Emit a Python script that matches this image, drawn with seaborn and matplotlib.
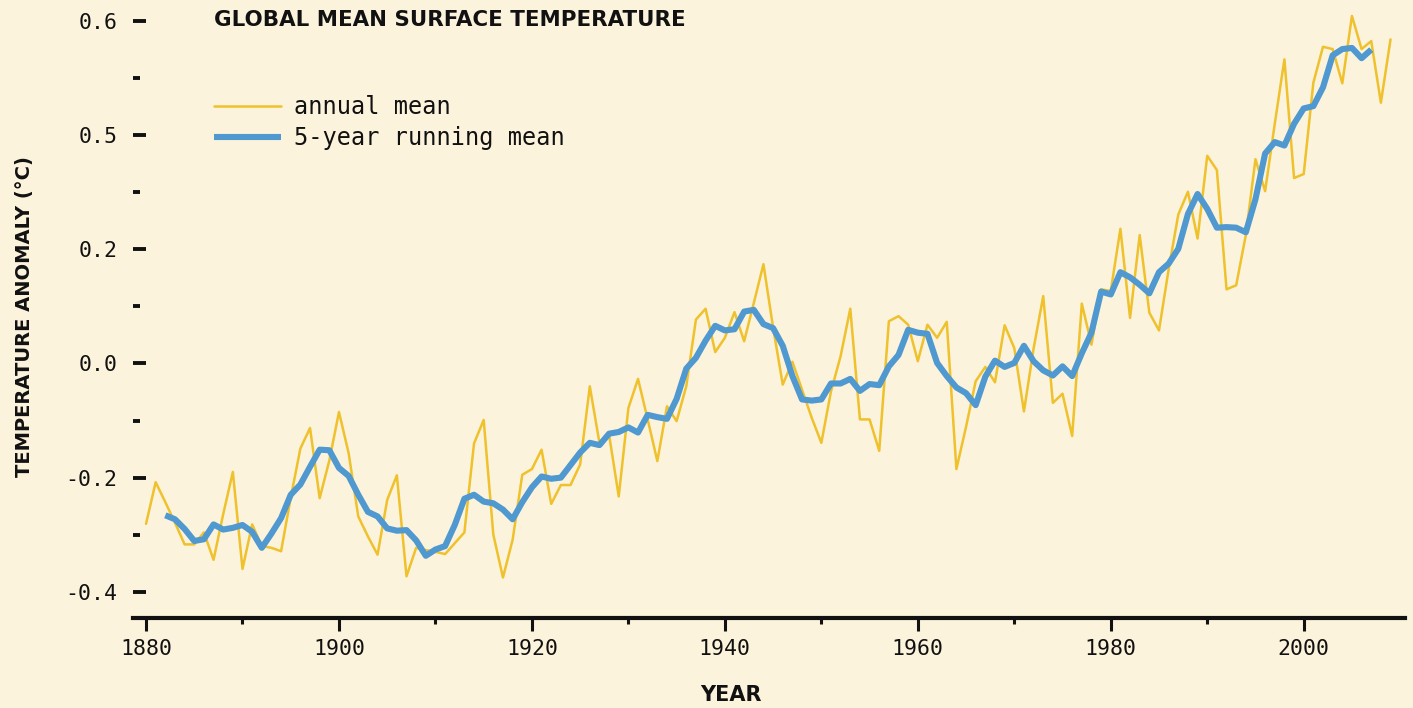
import seaborn as sns
import matplotlib.pyplot as plt
from matplotlib.ticker import MultipleLocator, FixedLocator

# values (deg C anomaly)
years = list(range(1880, 2010))
annual = [
    -0.281, -0.208, -0.243, -0.279, -0.317, -0.317, -0.296, -0.344, -0.264, -0.190,
    -0.360, -0.282, -0.320, -0.323, -0.329, -0.235, -0.149, -0.113, -0.236, -0.170,
    -0.085, -0.157, -0.268, -0.303, -0.335, -0.239, -0.196, -0.373, -0.323, -0.327,
    -0.330, -0.334, -0.315, -0.296, -0.140, -0.099, -0.300, -0.375, -0.309, -0.195,
    -0.185, -0.151, -0.246, -0.213, -0.213, -0.177, -0.040, -0.139, -0.125, -0.233,
    -0.078, -0.027, -0.098, -0.171, -0.075, -0.101, -0.040, 0.077, 0.096, 0.020,
    0.045, 0.090, 0.039, 0.106, 0.174, 0.063, -0.037, 0.003, -0.046, -0.095,
    -0.139, -0.049, 0.013, 0.096, -0.098, -0.098, -0.153, 0.074, 0.083, 0.068,
    0.004, 0.068, 0.045, 0.073, -0.185, -0.111, -0.031, -0.006, -0.033, 0.067,
    0.027, -0.084, 0.026, 0.118, -0.069, -0.053, -0.127, 0.105, 0.033, 0.130,
    0.127, 0.236, 0.080, 0.225, 0.089, 0.058, 0.165, 0.261, 0.301, 0.219,
    0.364, 0.339, 0.130, 0.137, 0.225, 0.358, 0.302, 0.420, 0.533, 0.325,
    0.332, 0.492, 0.555, 0.551, 0.491, 0.609, 0.551, 0.565, 0.457, 0.568,
]

running_years = list(range(1882, 2008))
running = [
    -0.266, -0.273, -0.290, -0.311, -0.308, -0.282, -0.291, -0.288,
    -0.283, -0.295, -0.323, -0.298, -0.271, -0.230, -0.212, -0.181, -0.151, -0.152,
    -0.183, -0.197, -0.230, -0.260, -0.268, -0.289, -0.293, -0.292, -0.310, -0.337,
    -0.326, -0.320, -0.283, -0.237, -0.230, -0.242, -0.245, -0.256, -0.273, -0.243,
    -0.217, -0.198, -0.202, -0.200, -0.178, -0.156, -0.139, -0.143, -0.123, -0.120,
    -0.112, -0.121, -0.090, -0.094, -0.097, -0.062, -0.009, 0.010, 0.040, 0.066,
    0.058, 0.060, 0.091, 0.094, 0.069, 0.062, 0.031, -0.022, -0.063, -0.065,
    -0.063, -0.035, -0.035, -0.027, -0.048, -0.036, -0.038, -0.005, 0.015, 0.059,
    0.054, 0.052, 0.001, -0.022, -0.042, -0.052, -0.073, -0.023, 0.005, -0.006,
    0.001, 0.031, 0.004, -0.012, -0.021, -0.005, -0.022, 0.018, 0.054, 0.126,
    0.121, 0.160, 0.151, 0.138, 0.123, 0.160, 0.175, 0.201, 0.262, 0.297,
    0.271, 0.238, 0.239, 0.238, 0.230, 0.288, 0.368, 0.388, 0.382, 0.420,
    0.447, 0.451, 0.484, 0.540, 0.551, 0.553, 0.535, 0.550,
]

xticks = [1880, 1900, 1920, 1940, 1960, 1980, 2000]
xtick_labels = ["1880", "1900", "1920", "1940", "1960", "1980", "2000"]
xminor = [1890, 1910, 1930, 1950, 1970, 1990]
yticks = [-0.4, -0.2, 0.0, 0.2, 0.4, 0.6]
ytick_labels = ["-0.4", "-0.2", "0.0", "0.2", "0.5", "0.6"]  # as printed on the original

BG = "#fcf3dc"
YELLOW = "#efc12c"
BLUE = "#4f98d0"
INK = "#111111"
MONO = "DejaVu Sans Mono"

sns.set_style("ticks", {"axes.facecolor": BG, "figure.facecolor": BG,
                        "text.color": INK, "axes.labelcolor": INK,
                        "xtick.color": INK, "ytick.color": INK,
                        "axes.edgecolor": INK})
plt.rcParams["font.family"] = ["DejaVu Sans"]

fig = plt.figure(figsize=(14.13, 7.08), dpi=100)
fig.subplots_adjust(left=133 / 1413, right=1405 / 1413, bottom=90 / 708, top=1.0)
ax = fig.add_subplot(111)

sns.lineplot(x=years, y=annual, ax=ax, color=YELLOW, linewidth=1.8, label="annual mean")
sns.lineplot(x=running_years, y=running, ax=ax, color=BLUE, linewidth=4.4,
             label="5-year running mean", solid_capstyle="butt")

ax.set_xlim(1878.65, 2010.5)
ax.set_ylim(-0.446, 0.637)

sns.despine(ax=ax, left=True)
ax.spines["bottom"].set_linewidth(3)

ax.set_xticks(xticks, xtick_labels)
ax.xaxis.set_minor_locator(FixedLocator(xminor))
ax.set_yticks(yticks, ytick_labels)
ax.yaxis.set_minor_locator(MultipleLocator(0.1))

ax.tick_params(axis="x", which="major", direction="out", length=9, width=2.2, pad=6,
               labelsize=15.5, labelfontfamily=MONO)
ax.tick_params(axis="x", which="minor", direction="out", length=4.5, width=2.2)
ax.tick_params(axis="y", which="major", direction="in", length=9.3, width=2.8, pad=11,
               labelsize=15.5, labelfontfamily=MONO)
ax.tick_params(axis="y", which="minor", direction="in", length=5, width=2.8)

ax.set_xlabel("YEAR", fontsize=15, fontweight="bold", labelpad=0)
ax.xaxis.set_label_coords(0.470, -0.108)
ax.set_ylabel("TEMPERATURE ANOMALY (°C)", fontsize=14, fontweight="bold")
ax.yaxis.set_label_coords(-0.078, 0.487)

fig.text(214 / 1413, 1 - 20 / 708, "GLOBAL MEAN SURFACE TEMPERATURE",
         fontsize=15.4, fontweight="bold", va="center", ha="left")

ax.legend(loc="upper left", bbox_to_anchor=(214 / 1413, 1 - 95 / 708),
          bbox_transform=fig.transFigure, frameon=False, borderpad=0,
          borderaxespad=0, handlelength=2.85, handletextpad=0.55,
          labelspacing=0.3, prop={"family": MONO, "size": 17})

fig.savefig("out.png", dpi=100, facecolor=BG)
